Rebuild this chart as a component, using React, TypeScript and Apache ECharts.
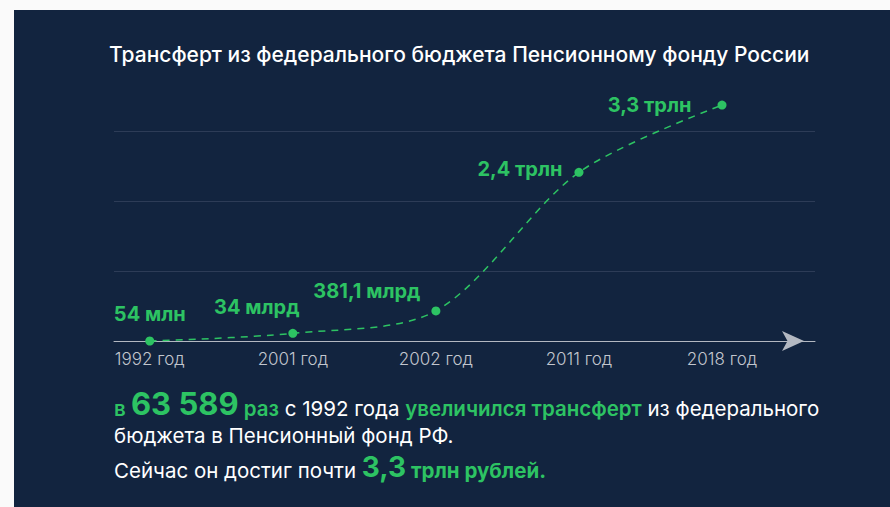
import React, { useEffect, useRef } from 'react';
import * as echarts from 'echarts';

// ---- data ----
const years = ['1992 год', '2001 год', '2002 год', '2011 год', '2018 год'];
// plotted heights, trillion roubles (as drawn in the picture)
const values = [0.0001, 0.11, 0.43, 2.41, 3.37];
const valueLabels = ['54 млн', '34 млрд', '381,1 млрд', '2,4 трлн', '3,3 трлн'];
const yTicks = [0, 1, 2, 3];

const titleText = 'Трансферт из федерального бюджета Пенсионному фонду России';

const GREEN = '#2dc363';
const BG = '#12243f';
const FONT = 'Inter, "Noto Sans", sans-serif';

// label placement for each point (style, not data)
const labelPlacement: any[] = [
  { position: 'top', distance: 12, offset: [0, 0] },
  { position: 'top', distance: 12, offset: [-36, 0] },
  { position: 'top', distance: 5, offset: [-69, 0] },
  { position: 'left', distance: 12, offset: [0, -3] },
  { position: 'left', distance: 26, offset: [0, 0] },
];

export default function App() {
  const ref = useRef<HTMLDivElement>(null);

  useEffect(() => {
    if (!ref.current) return;
    const chart = echarts.init(ref.current, undefined, { renderer: 'svg' });

    const rich1 = {
      g: { fill: GREEN, fontSize: 20.5, fontWeight: 600, fontFamily: FONT, verticalAlign: 'bottom', lineHeight: 24 },
      big: { fill: GREEN, fontSize: 31, fontWeight: 'bold', fontFamily: FONT, verticalAlign: 'bottom', lineHeight: 24 },
      w: { fill: '#ffffff', fontSize: 20.5, fontWeight: 400, fontFamily: FONT, verticalAlign: 'bottom', lineHeight: 24 },
    };
    const rich3 = {
      g: { fill: GREEN, fontSize: 20.5, fontWeight: 'bold', fontFamily: FONT, verticalAlign: 'bottom', lineHeight: 24 },
      big: { fill: GREEN, fontSize: 28, fontWeight: 'bold', fontFamily: FONT, verticalAlign: 'bottom', lineHeight: 24 },
      w: { fill: '#ffffff', fontSize: 20.5, fontWeight: 400, fontFamily: FONT, verticalAlign: 'bottom', lineHeight: 24 },
    };

    const option: any = {
      animation: false,
      backgroundColor: 'transparent',
      title: {
        text: titleText,
        left: 104,
        top: 39,
        textStyle: { color: '#ffffff', fontSize: 21, fontWeight: 500, fontFamily: FONT },
      },
      grid: { left: 114, right: 890 - 815, top: 131, bottom: 507 - 341, containLabel: false },
      xAxis: {
        type: 'value',
        min: -0.25,
        max: 4.65,
        interval: 0.05,
        axisLine: {
          show: true,
          lineStyle: { color: '#b3b8c1', width: 1 },
          symbol: ['none', 'arrow'],
          symbolSize: [15, 22],
          symbolOffset: [0, -11],
        },
        axisTick: { show: false },
        splitLine: { show: false },
        axisLabel: {
          color: '#c2c6ce',
          fontSize: 17,
          fontWeight: 300,
          fontFamily: FONT,
          margin: 9,
          formatter: (v: number) => {
            const r = Math.round(v);
            return Math.abs(v - r) < 1e-6 && r >= 0 && r < years.length ? years[r] : '';
          },
        },
      },
      yAxis: {
        type: 'value',
        min: yTicks[0],
        max: yTicks[yTicks.length - 1],
        interval: 1,
        axisLine: { show: false },
        axisTick: { show: false },
        axisLabel: { show: false },
        splitLine: { lineStyle: { color: '#2d3c57', width: 1 } },
      },
      series: [
        {
          type: 'line',
          clip: false,
          smooth: 0.3,
          symbol: 'circle',
          symbolSize: 9,
          itemStyle: { color: GREEN },
          lineStyle: { color: GREEN, width: 1.5, type: [7, 6] },
          label: {
            show: true,
            color: GREEN,
            fontSize: 20,
            fontWeight: 'bold',
            fontFamily: FONT,
            formatter: (p: any) => valueLabels[p.dataIndex],
          },
          data: values.map((v, i) => ({ value: [i, v], label: labelPlacement[i] })),
          z: 5,
        },
      ],
      graphic: [
        {
          type: 'rect',
          z: -10,
          silent: true,
          shape: { x: 14, y: 10, width: 890 - 14, height: 507 - 10 },
          style: { fill: BG },
        },
        {
          type: 'text',
          x: 114,
          y: 407,
          style: {
            text:
              '{g|в }{big|63 589}{g| раз}{w| с 1992 года }{g|увеличился трансферт}{w| из федерального}',
            verticalAlign: 'middle',
            rich: rich1,
          },
        },
        {
          type: 'text',
          x: 114,
          y: 435,
          style: {
            text: 'бюджета в Пенсионный фонд РФ.',
            fill: '#ffffff',
            fontSize: 20.5,
            fontFamily: FONT,
            verticalAlign: 'middle',
          },
        },
        {
          type: 'text',
          x: 114,
          y: 469,
          style: {
            text: '{w|Сейчас он достиг почти }{big|3,3}{g| трлн рублей.}',
            verticalAlign: 'middle',
            rich: rich3,
          },
        },
      ],
    };

    chart.setOption(option);
    return () => chart.dispose();
  }, []);

  return (
    <div style={{ position: 'fixed', left: 0, top: 0, width: 890, height: 507, background: '#fafafa' }}>
      <div ref={ref} style={{ width: 890, height: 507 }} />
    </div>
  );
}
